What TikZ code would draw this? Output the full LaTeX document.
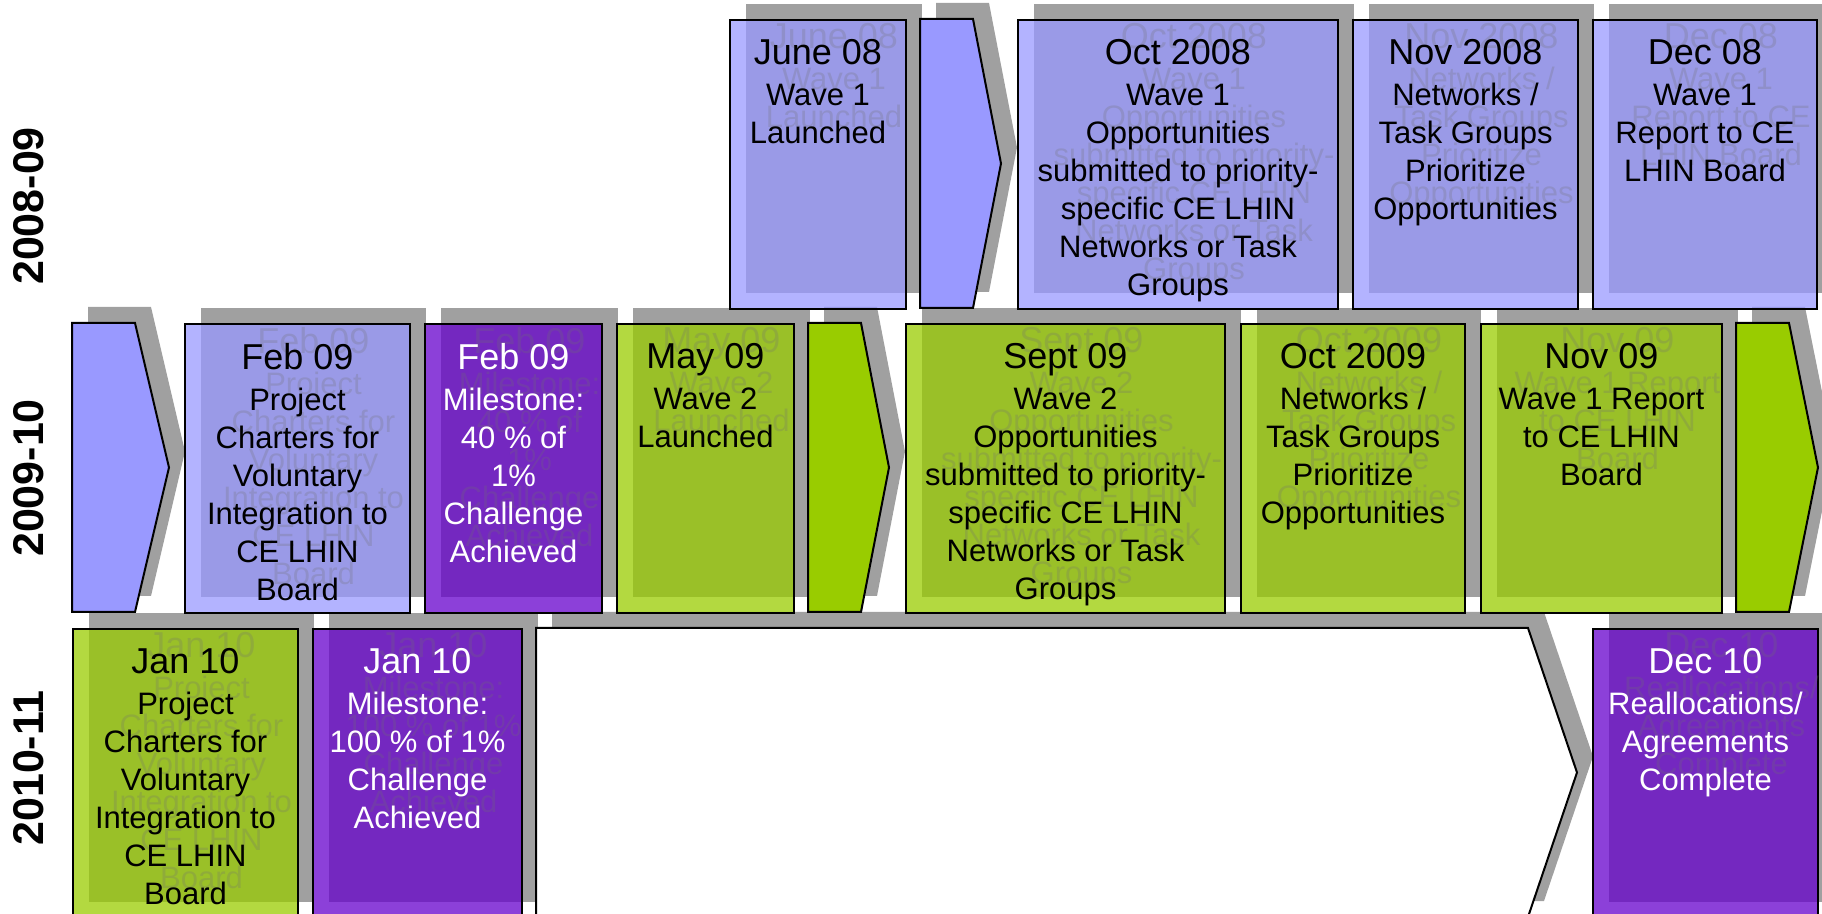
\documentclass[tikz,border=0pt]{standalone}
\usepackage{fontspec}
\setmainfont{Liberation Sans}
\usetikzlibrary{shadows}
\definecolor{wavelav}{HTML}{9999FF}
\definecolor{wavelime}{HTML}{99CC00}
\definecolor{mspurple}{HTML}{6600CC}
\definecolor{shadowgray}{HTML}{A0A0A0}
\definecolor{ghostgray}{HTML}{707070}
\newcommand{\when}{\fontsize{18pt}{19pt}\selectfont}
\begin{document}
\begin{tikzpicture}
        [x=0.5pt, y=-0.5pt,
        card/.style={draw=black, line width=1pt, fill opacity=.75, anchor=north west,
                inner sep=0pt, minimum height=144.5pt,
                general shadow={fill=shadowgray, draw=none, fill opacity=1, shadow xshift=8pt, shadow yshift=8pt}},
        chev/.style={draw=black, line width=1pt,
                general shadow={fill=shadowgray, draw=none, shadow xshift=8pt, shadow yshift=8pt}},
        txt/.style={anchor=north, align=center, inner sep=0pt, yshift=-10pt,
                font=\fontsize{15.5pt}{19pt}\selectfont},
        ghost/.style={anchor=north, align=center, inner sep=0pt, xshift=8pt, yshift=-2pt,
                font=\fontsize{15.5pt}{19pt}\selectfont, text=ghostgray, text opacity=.25},
        year/.style={rotate=90, font=\fontsize{21.5pt}{24pt}\selectfont\bfseries}]
        \useasboundingbox (0,0) rectangle (1822,914);
        %2010-11
        \node[card, fill=wavelime, minimum width=112.5pt] (jan10a) at (72,628) {};
        \node[ghost] (jan10ag) at (jan10a.north) {{\when Jan 10}\\[1.5pt]Project\\Charters for\\Voluntary\\Integration to\\CE LHIN\\Board};
        \node[txt] (jan10at) at (jan10a.north) {{\when Jan 10}\\[1.5pt]Project\\Charters for\\Voluntary\\Integration to\\CE LHIN\\Board};
        \node[card, fill=mspurple, minimum width=104.5pt] (jan10b) at (312,628) {};
        \node[ghost] (jan10bg) at (jan10b.north) {{\when Jan 10}\\[1.5pt]Milestone:\\100 \% of 1\%\\Challenge\\Achieved};
        \node[txt, text=white] (jan10bt) at (jan10b.north) {{\when Jan 10}\\[1.5pt]Milestone:\\100 \% of 1\%\\Challenge\\Achieved};
        \draw[chev, fill=white] (536,628) -- (1528,628) -- (1577,772.5) -- (1528,917) -- (536,917) -- cycle;
        \node[card, fill=mspurple, minimum width=112.5pt] (dec10) at (1592,628) {};
        \node[ghost] (dec10g) at (dec10.north) {{\when Dec 10}\\[1.5pt]Reallocations/\\Agreements\\Complete};
        \node[txt, text=white] (dec10t) at (dec10.north) {{\when Dec 10}\\[1.5pt]Reallocations/\\Agreements\\Complete};
        %2009-10
        \draw[chev, fill=wavelav] (72,323) -- (135,323) -- (169,467.5) -- (135,612) -- (72,612) -- cycle;
        \node[card, fill=wavelav, minimum width=112.5pt] (feb09a) at (184,323) {};
        \node[ghost] (feb09ag) at (feb09a.north) {{\when Feb 09}\\[1.5pt]Project\\Charters for\\Voluntary\\Integration to\\CE LHIN\\Board};
        \node[txt] (feb09at) at (feb09a.north) {{\when Feb 09}\\[1.5pt]Project\\Charters for\\Voluntary\\Integration to\\CE LHIN\\Board};
        \node[card, fill=mspurple, minimum width=88.5pt] (feb09b) at (424,323) {};
        \node[ghost] (feb09bg) at (feb09b.north) {{\when Feb 09}\\[1.5pt]Milestone:\\40 \% of\\1\%\\Challenge\\Achieved};
        \node[txt, text=white] (feb09bt) at (feb09b.north) {{\when Feb 09}\\[1.5pt]Milestone:\\40 \% of\\1\%\\Challenge\\Achieved};
        \node[card, fill=wavelime, minimum width=88.5pt] (may09) at (616,323) {};
        \node[ghost] (may09g) at (may09.north) {{\when May 09}\\[1.5pt]Wave 2\\Launched};
        \node[txt] (may09t) at (may09.north) {{\when May 09}\\[1.5pt]Wave 2\\Launched};
        \draw[chev, fill=wavelime] (808,323) -- (861,323) -- (889,467.5) -- (861,612) -- (808,612) -- cycle;
        \node[card, fill=wavelime, minimum width=159.5pt] (sep09) at (905,323) {};
        \node[ghost] (sep09g) at (sep09.north) {{\when Sept 09}\\[1.5pt]Wave 2\\Opportunities\\submitted to priority-\\specific CE LHIN\\Networks or Task\\Groups};
        \node[txt] (sep09t) at (sep09.north) {{\when Sept 09}\\[1.5pt]Wave 2\\Opportunities\\submitted to priority-\\specific CE LHIN\\Networks or Task\\Groups};
        \node[card, fill=wavelime, minimum width=112pt] (oct09) at (1240,323) {};
        \node[ghost] (oct09g) at (oct09.north) {{\when Oct 2009}\\[1.5pt]Networks /\\Task Groups\\Prioritize\\Opportunities};
        \node[txt] (oct09t) at (oct09.north) {{\when Oct 2009}\\[1.5pt]Networks /\\Task Groups\\Prioritize\\Opportunities};
        \node[card, fill=wavelime, minimum width=120.5pt] (nov09) at (1480,323) {};
        \node[ghost] (nov09g) at (nov09.north) {{\when Nov 09}\\[1.5pt]Wave 1 Report\\to CE LHIN\\Board};
        \node[txt] (nov09t) at (nov09.north) {{\when Nov 09}\\[1.5pt]Wave 1 Report\\to CE LHIN\\Board};
        \draw[chev, fill=wavelime] (1736,323) -- (1789,323) -- (1818,467.5) -- (1789,612) -- (1736,612) -- cycle;
        %2008-09
        \node[card, fill=wavelav, minimum width=88pt] (jun08) at (729,19) {};
        \node[ghost] (jun08g) at (jun08.north) {{\when June 08}\\[1.5pt]Wave 1\\Launched};
        \node[txt] (jun08t) at (jun08.north) {{\when June 08}\\[1.5pt]Wave 1\\Launched};
        \draw[chev, fill=wavelav] (920,19) -- (973,19) -- (1001,163.5) -- (973,308) -- (920,308) -- cycle;
        \node[card, fill=wavelav, minimum width=160pt] (oct08) at (1017,19) {};
        \node[ghost] (oct08g) at (oct08.north) {{\when Oct 2008}\\[1.5pt]Wave 1\\Opportunities\\submitted to priority-\\specific CE LHIN\\Networks or Task\\Groups};
        \node[txt] (oct08t) at (oct08.north) {{\when Oct 2008}\\[1.5pt]Wave 1\\Opportunities\\submitted to priority-\\specific CE LHIN\\Networks or Task\\Groups};
        \node[card, fill=wavelav, minimum width=112.5pt] (nov08) at (1352,19) {};
        \node[ghost] (nov08g) at (nov08.north) {{\when Nov 2008}\\[1.5pt]Networks /\\Task Groups\\Prioritize\\Opportunities};
        \node[txt] (nov08t) at (nov08.north) {{\when Nov 2008}\\[1.5pt]Networks /\\Task Groups\\Prioritize\\Opportunities};
        \node[card, fill=wavelav, minimum width=112pt] (dec08) at (1592,19) {};
        \node[ghost] (dec08g) at (dec08.north) {{\when Dec 08}\\[1.5pt]Wave 1\\Report to CE\\LHIN Board};
        \node[txt] (dec08t) at (dec08.north) {{\when Dec 08}\\[1.5pt]Wave 1\\Report to CE\\LHIN Board};
        %Jahre
        \node[year] (y0809) at (28.5,206) {2008-09};
        \node[year] (y0910) at (28.5,478) {2009-10};
        \node[year] (y1011) at (28.5,768) {2010-11};
\end{tikzpicture}
\end{document}
